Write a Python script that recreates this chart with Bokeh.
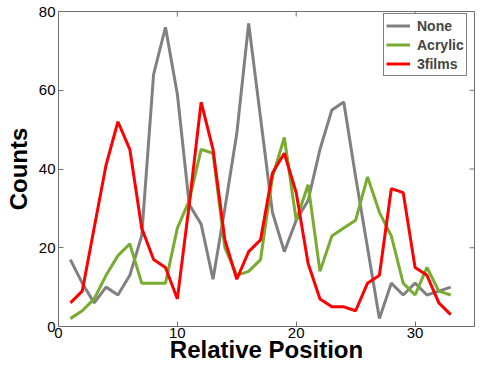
import math
from bokeh.plotting import figure
from bokeh.models import Range1d, Legend, LegendItem, FixedTicker
from bokeh.embed import file_html
from bokeh.resources import INLINE

positions = list(range(1, 34))
none_counts = [17, 11, 6, 10, 8, 13, 23, 64, 76, 59, 31, 26, 12, 30, 49, 77, 53, 29, 19, 27, 32, 45, 55, 57, 38, 20, 2, 11, 8, 11, 8, 9, 10]
acrylic_counts = [2, 4, 7, 13, 18, 21, 11, 11, 11, 25, 32, 45, 44, 20, 13, 14, 17, 38, 48, 27, 36, 14, 23, 25, 27, 38, 29, 23, 11, 8, 15, 9, 8]
films_counts = [6, 9, 25, 41, 52, 45, 25, 17, 15, 7, 31, 57, 45, 22, 12, 19, 22, 39, 44, 34, 16, 7, 5, 5, 4, 11, 13, 35, 34, 15, 13, 6, 3]
series_names = ["None", "Acrylic", "3films"]
series_colors = ["#808080", "#77ac30", "#ff0000"]
x_min, x_max = 0, 35
y_min, y_max = 0, 80
x_ticks = [0, 10, 20, 30]
y_ticks = [0, 20, 40, 60, 80]

AXIS_COLOR = "#707070"

p = figure(width=475, height=366, output_backend="svg", toolbar_location=None,
           x_range=Range1d(x_min, x_max), y_range=Range1d(y_min, y_max),
           min_border_left=58, min_border_right=1, min_border_top=11, min_border_bottom=40)
p.grid.visible = False
p.outline_line_color = AXIS_COLOR
p.background_fill_color = "white"
p.border_fill_color = "white"

renderers = []
for vals, color in zip([none_counts, acrylic_counts, films_counts], series_colors):
    r = p.line(positions, vals, line_color=color, line_width=3)
    renderers.append(r)

# ticks on the top and right edges of the box (half of each dash is clipped away)
p.scatter(x_ticks, [y_max] * len(x_ticks), marker="dash", angle=math.pi / 2, size=10,
          line_color=AXIS_COLOR, line_width=1)
p.scatter([x_max] * len(y_ticks), y_ticks, marker="dash", size=10,
          line_color=AXIS_COLOR, line_width=1)

for ax, ticks in ((p.xaxis[0], x_ticks), (p.yaxis[0], y_ticks)):
    ax.ticker = FixedTicker(ticks=ticks)
    ax.major_tick_in = 5
    ax.major_tick_out = 0
    ax.minor_tick_in = 0
    ax.minor_tick_out = 0
    ax.axis_line_color = AXIS_COLOR
    ax.major_tick_line_color = AXIS_COLOR
    ax.major_label_text_font = "Liberation Sans"
    ax.major_label_text_font_size = "15px"
    ax.major_label_text_color = "black"
    ax.axis_label_text_font = "Liberation Sans"
    ax.axis_label_text_font_style = "bold"
    ax.axis_label_text_font_size = "24px"
    ax.axis_label_text_color = "black"

p.xaxis.axis_label = "Relative Position"
p.yaxis.axis_label = "Counts"
p.xaxis.major_label_standoff = 1
p.xaxis.axis_label_standoff = -5
p.yaxis.major_label_standoff = 3
p.yaxis.axis_label_standoff = 4

legend = Legend(items=[LegendItem(label=n, renderers=[r]) for n, r in zip(series_names, renderers)],
                location=(325, 250))
legend.margin = 0
legend.padding = 2
legend.spacing = 0
legend.label_height = 19
legend.glyph_height = 19
legend.glyph_width = 24
legend.label_standoff = 7
legend.label_text_font = "Liberation Sans"
legend.label_text_font_style = "bold"
legend.label_text_font_size = "14px"
legend.border_line_color = "black"
legend.border_line_width = 1
legend.background_fill_color = "white"
legend.background_fill_alpha = 1
p.add_layout(legend, "center")

open("out.html", "w").write(file_html(p, INLINE))
